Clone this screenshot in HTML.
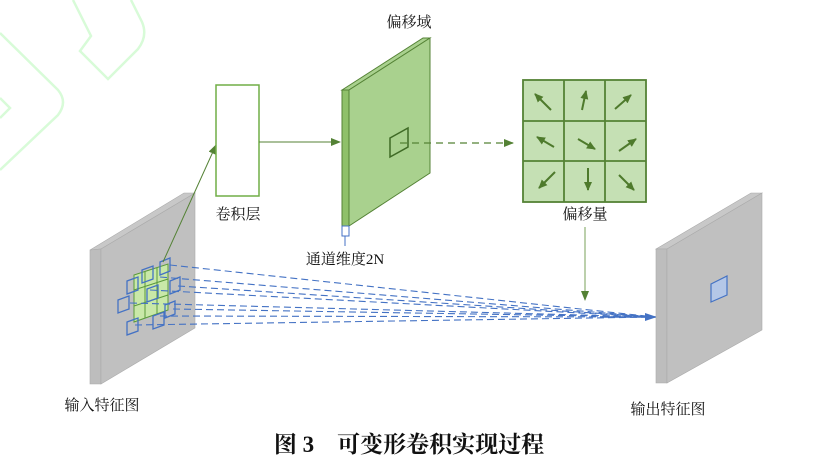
<!DOCTYPE html>
<html><head><meta charset="utf-8"><style>
body{margin:0;background:#fff;width:818px;height:468px;overflow:hidden}
svg{display:block}
text{font-family:"Liberation Serif","Noto Serif CJK SC",serif;fill:#111}
</style></head><body>
<svg width="818" height="468" viewBox="0 0 818 468" xmlns="http://www.w3.org/2000/svg">
<defs>
<marker id="ag" markerWidth="10" markerHeight="8" refX="9" refY="4" orient="auto" markerUnits="userSpaceOnUse"><path d="M0,0L10,4L0,8z" fill="#548235"/></marker>
<marker id="ab" markerWidth="12" markerHeight="8" refX="11" refY="4" orient="auto" markerUnits="userSpaceOnUse"><path d="M0,0L12,4L0,8z" fill="#4472c4"/></marker>
<marker id="aa" markerWidth="9" markerHeight="8" refX="8" refY="4" orient="auto" markerUnits="userSpaceOnUse"><path d="M0,0L9,4L0,8z" fill="#4e7a2c"/></marker>
</defs>
<g fill="none" stroke="#d8fbd8" stroke-width="2.5">
<path d="M0,33 L58,90 Q68,102 58,115 L0,170"/>
<path d="M0,98 L10,108 L0,118"/>
<path d="M73,0 L91,36 L80,51 L108,79 L138,49 Q148,36 142,22 L131,0"/>
</g>
<polygon points="90,250 184,193 195,193 101,249" fill="#c8c8c8" stroke="#aaa" stroke-width="0.6"/>
<polygon points="90,250 101,249 101,384 90,384" fill="#bdbdbd" stroke="#aaa" stroke-width="0.6"/>
<polygon points="101,249 195,193 195,328 101,384" fill="#c0c0c0" stroke="#aaa" stroke-width="0.6"/>
<g stroke="#5a9a3a" stroke-width="1" fill="#c9e8a8">
<polygon points="134,275 168,264 168,310 134,322"/>
<line x1="145" y1="271" x2="145" y2="318"/><line x1="157" y1="268" x2="157" y2="314"/>
<line x1="134" y1="290" x2="168" y2="279"/><line x1="134" y1="306" x2="168" y2="295"/>
</g>
<g fill="none" stroke="#4472c4" stroke-width="1.3">
<polygon points="127,281 138,277 138,290 127,294"/>
<polygon points="142,270 153,266 153,279 142,283"/>
<polygon points="160,262 170,258 170,271 160,275"/>
<polygon points="118,300 129,296 129,309 118,313"/>
<polygon points="147,289 158,285 158,298 147,302"/>
<polygon points="170,281 180,277 180,290 170,294"/>
<polygon points="127,322 138,318 138,331 127,335"/>
<polygon points="153,316 164,312 164,325 153,329"/>
<polygon points="165,305 175,301 175,314 165,318"/>
</g>
<g stroke="#4472c4" stroke-width="1.1" stroke-dasharray="7,4" fill="none">
<line x1="170" y1="265" x2="655" y2="317"/>
<line x1="160" y1="277" x2="655" y2="317"/>
<line x1="178" y1="286" x2="655" y2="317"/>
<line x1="150" y1="290" x2="655" y2="317"/>
<line x1="130" y1="303" x2="655" y2="317"/>
<line x1="173" y1="309" x2="655" y2="317"/>
<line x1="160" y1="316" x2="655" y2="317"/>
<line x1="135" y1="325" x2="655" y2="317"/>
</g>
<line x1="600" y1="317" x2="656" y2="317" stroke="#4472c4" stroke-width="1.5" marker-end="url(#ab)"/>
<line x1="163" y1="262" x2="216" y2="145" stroke="#548235" stroke-width="1" marker-end="url(#ag)"/>
<rect x="216" y="85" width="43" height="111" fill="#fff" stroke="#70ad47" stroke-width="1.5"/>
<text x="238" y="219" font-size="15" text-anchor="middle">卷积层</text>
<line x1="259" y1="142" x2="340" y2="142" stroke="#548235" stroke-width="1" marker-end="url(#ag)"/>
<polygon points="342,90 423,38 430,38 349,90" fill="#a9d18e" stroke="#548235" stroke-width="1"/>
<polygon points="342,90 349,90 349,226 342,226" fill="#8fc06a" stroke="#548235" stroke-width="1"/>
<polygon points="349,90 430,38 430,173 349,226" fill="#a9d18e" stroke="#548235" stroke-width="1"/>
<polygon points="390,138 408,128 408,147 390,157" fill="none" stroke="#3f6a25" stroke-width="1.5"/>
<rect x="342" y="226" width="7" height="10" fill="#fff" stroke="#4472c4" stroke-width="1"/>
<line x1="345" y1="236" x2="345" y2="246" stroke="#4472c4" stroke-width="1"/>
<text x="409" y="27" font-size="15" text-anchor="middle">偏移域</text>
<text x="345" y="264" font-size="15" text-anchor="middle">通道维度2N</text>
<line x1="400" y1="143" x2="513" y2="143" stroke="#548235" stroke-width="1.2" stroke-dasharray="7,5" marker-end="url(#ag)"/>
<g stroke="#548235" stroke-width="1.8" fill="#c5e0b4">
<rect x="523" y="80" width="123" height="122"/>
<line x1="564" y1="80" x2="564" y2="202"/><line x1="605" y1="80" x2="605" y2="202"/>
<line x1="523" y1="121" x2="646" y2="121"/><line x1="523" y1="161" x2="646" y2="161"/>
</g>
<g stroke="#4e7a2c" stroke-width="2" marker-end="url(#aa)">
<line x1="551" y1="110" x2="535" y2="94"/>
<line x1="582" y1="110" x2="586" y2="91"/>
<line x1="615" y1="109" x2="631" y2="95"/>
<line x1="554" y1="147" x2="537" y2="137"/>
<line x1="578" y1="139" x2="595" y2="149"/>
<line x1="619" y1="151" x2="636" y2="139"/>
<line x1="555" y1="172" x2="539" y2="188"/>
<line x1="588" y1="168" x2="588" y2="190"/>
<line x1="619" y1="175" x2="634" y2="190"/>
</g>
<text x="585" y="219" font-size="15" text-anchor="middle">偏移量</text>
<line x1="585" y1="227" x2="585" y2="300" stroke="#7aa05a" stroke-width="1" marker-end="url(#ag)"/>
<polygon points="656,249 751,193 762,193 667,249" fill="#c8c8c8" stroke="#aaa" stroke-width="0.6"/>
<polygon points="656,249 667,249 667,383 656,383" fill="#bdbdbd" stroke="#aaa" stroke-width="0.6"/>
<polygon points="667,249 762,193 762,330 667,383" fill="#c0c0c0" stroke="#aaa" stroke-width="0.6"/>
<polygon points="711,284 727,276 727,295 711,302" fill="#b4c7e7" stroke="#4472c4" stroke-width="1.2"/>
<text x="102" y="410" font-size="15" text-anchor="middle">输入特征图</text>
<text x="668" y="414" font-size="15" text-anchor="middle">输出特征图</text>
<text x="409" y="452" font-size="23" font-weight="bold" text-anchor="middle">图 3　可变形卷积实现过程</text>
</svg>
</body></html>
